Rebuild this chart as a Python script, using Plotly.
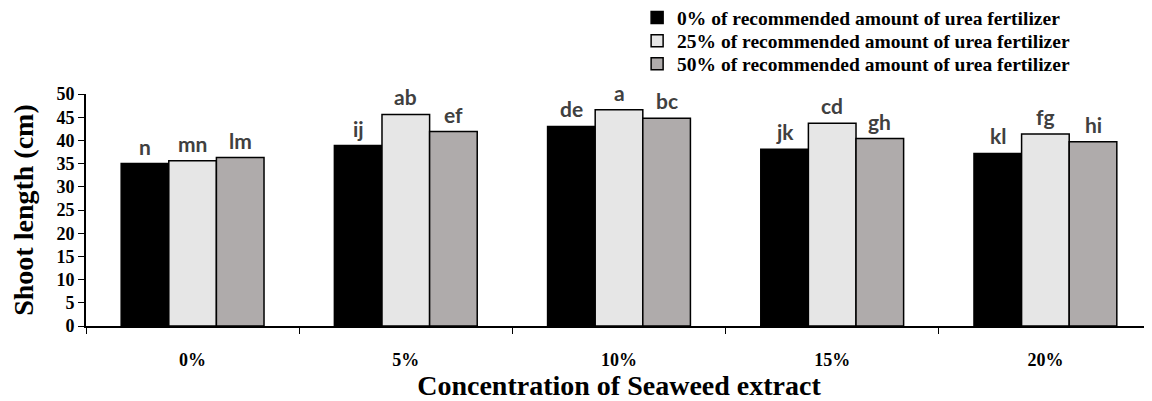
import plotly.graph_objects as go

categories = ["0%", "5%", "10%", "15%", "20%"]
series_names = [
    "0% of recommended amount of urea fertilizer",
    "25% of recommended amount of urea fertilizer",
    "50% of recommended amount of urea fertilizer",
]
urea_0 = [35.0, 38.9, 43.0, 38.1, 37.2]
urea_25 = [35.6, 45.6, 46.6, 43.7, 41.4]
urea_50 = [36.3, 41.9, 44.8, 40.4, 39.7]
letters_0 = ["n", "ij", "de", "jk", "kl"]
letters_25 = ["mn", "ab", "a", "cd", "fg"]
letters_50 = ["lm", "ef", "bc", "gh", "hi"]
y_ticks = [0, 5, 10, 15, 20, 25, 30, 35, 40, 45, 50]

colors = ["#000000", "#e6e6e6", "#afabab"]
serif = "Liberation Serif, Times New Roman, serif"
BARGAP = 0.33
legend_ids = ["legend", "legend2", "legend3"]
legend_y = [1.328, 1.228, 1.129]

fig = go.Figure()
series = [urea_0, urea_25, urea_50]
letters = [letters_0, letters_25, letters_50]
nser = len(series)
bw = (1 - BARGAP) / nser
annotations = []
for j, (name, vals, lets, col) in enumerate(zip(series_names, series, letters, colors)):
    fig.add_trace(go.Bar(
        x=categories, y=vals, name=name, legend=legend_ids[j],
        marker=dict(color=col, line=dict(color="#000000", width=1.5)),
    ))
    for i, (v, t) in enumerate(zip(vals, lets)):
        annotations.append(dict(
            x=i + (j - (nser - 1) / 2) * bw, y=v, xref="x", yref="y",
            text=t, showarrow=False, yanchor="bottom", yshift=3,
            font=dict(family="Lato", size=21, color="#404040", weight="bold"),
        ))

leg_common = dict(
    x=0.517, xanchor="left", yanchor="middle",
    font=dict(family=serif, size=19.5, color="#000000", weight="bold"),
    bgcolor="rgba(0,0,0,0)", itemwidth=30,
)
fig.update_layout(
    width=1144, height=393,
    margin=dict(l=78, r=0, t=86, b=75, autoexpand=False),
    barmode="group", bargap=BARGAP, bargroupgap=0,
    plot_bgcolor="white", paper_bgcolor="white",
    font=dict(family=serif, color="#000000"),
    legend=dict(y=legend_y[0], **leg_common),
    legend2=dict(y=legend_y[1], **leg_common),
    legend3=dict(y=legend_y[2], **leg_common),
    showlegend=True,
    annotations=annotations,
)
fig.update_xaxes(
    showline=True, linecolor="#000000", linewidth=2,
    ticks="outside", ticklen=6, tickwidth=1, tickcolor="#000000",
    tickson="boundaries", ticklabelstandoff=16,
    tickfont=dict(family=serif, size=18, weight="bold"),
    title=dict(text="Concentration of Seaweed extract", standoff=2,
               font=dict(family=serif, size=28, weight="bold")),
    showgrid=False, automargin=False,
)
fig.update_yaxes(
    range=[0, 50], tickvals=y_ticks,
    showline=True, linecolor="#000000", linewidth=2,
    ticks="outside", ticklen=6, tickwidth=1, tickcolor="#000000",
    tickfont=dict(family=serif, size=18, weight="bold"),
    title=dict(text="Shoot length (cm)", standoff=18,
               font=dict(family=serif, size=28, weight="bold")),
    showgrid=False, zeroline=False, automargin=False,
)

fig.write_html("out.html")
